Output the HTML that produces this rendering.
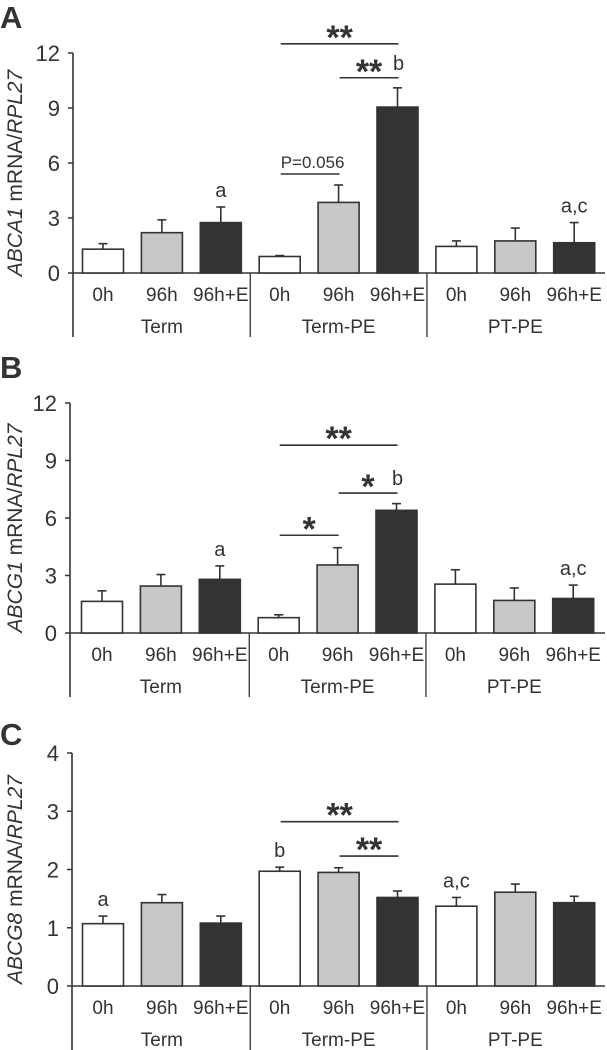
<!DOCTYPE html>
<html><head><meta charset="utf-8"><style>
html,body{margin:0;padding:0;background:#fff;}
svg{display:block;}
text{font-family:"Liberation Sans",Arial,sans-serif;fill:#333;}
</style></head><body>
<svg id="fig" width="607" height="1050" viewBox="0 0 607 1050" xmlns="http://www.w3.org/2000/svg"></svg>
<script>
const categories = ["0h","96h","96h+E","0h","96h","96h+E","0h","96h","96h+E"];
const groups = ["Term","Term-PE","PT-PE"];
const fills = ["#ffffff","#c8c8c8","#333333"];
const valuesA = [1.3,2.2,2.75,0.9,3.85,9.05,1.45,1.75,1.65];
const errorsA = [0.3,0.7,0.85,0.05,0.95,1.05,0.3,0.7,1.1];
const valuesB = [1.65,2.45,2.8,0.8,3.55,6.4,2.55,1.7,1.8];
const errorsB = [0.55,0.6,0.7,0.15,0.9,0.35,0.75,0.65,0.7];
const valuesC = [1.07,1.43,1.08,1.97,1.95,1.52,1.37,1.61,1.43];
const errorsC = [0.13,0.14,0.12,0.07,0.08,0.11,0.15,0.14,0.11];
const ticksA = [0,3,6,9,12];
const ticksB = [0,3,6,9,12];
const ticksC = [0,1,2,3,4];
const lettersA = [[2,"a"],[8,"a,c"]];
const lettersB = [[2,"a"],[8,"a,c"]];
const lettersC = [[0,"a"],[3,"b"],[6,"a,c"]];
// significance brackets: [fromBar, toBar, level(data units), label]
const sigA = [[3,5,12.5,"**"],[4,5,10.65,"**"],[3,4,5.4,"P=0.056"]];
const sigB = [[3,5,9.8,"**"],[4,5,7.3,"*"],[3,4,5.1,"*"]];
const sigC = [[3,5,2.82,"**"],[4,5,2.23,"**"]];

const NS="http://www.w3.org/2000/svg";
const svg=document.getElementById('fig');
function mk(tag,attrs,parent,txt){const e=document.createElementNS(NS,tag);for(const k in attrs)e.setAttribute(k,attrs[k]);if(txt!==undefined)e.textContent=txt;(parent||svg).appendChild(e);return e;}

const panels=[
 {id:"a",letter:"A",letterY:28,axisX:73,y0:273,yTop:53,max:12,vals:valuesA,errs:errorsA,ticks:ticksA,letters:lettersA,sig:sigA,gene:"ABCA1",xOff:0},
 {id:"b",letter:"B",letterY:378,axisX:70,y0:633,yTop:403,max:12,vals:valuesB,errs:errorsB,ticks:ticksB,letters:lettersB,sig:sigB,gene:"ABCG1",xOff:-1},
 {id:"c",letter:"C",letterY:745,axisX:72,y0:986,yTop:753,max:4,vals:valuesC,errs:errorsC,ticks:ticksC,letters:lettersC,sig:sigC,gene:"ABCG8",xOff:0}
];
panels.forEach(p=>{
 const g=mk('g',{});
 
 
 const yS=v=>p.y0-(v/p.max)*(p.y0-p.yTop);
 const xC=i=>103+p.xOff+i*58.9;
 const bw=41;
 const lt=mk('text',{x:0,y:p.letterY,'font-size':31,'font-weight':'bold'},g,p.letter);
 
 
 const yt=mk('text',{x:0,y:0,'font-size':21,'text-anchor':'middle',transform:`translate(22,${(p.y0+p.yTop)/2+10}) rotate(-90)`},g);
 
 
 mk('tspan',{'font-style':'italic'},yt,p.gene);
 mk('tspan',{},yt,' mRNA/');
 mk('tspan',{'font-style':'italic'},yt,'RPL27');
 const bottom=p.y0+64;
 const ax=mk('line',{x1:p.axisX,y1:p.yTop,x2:p.axisX,y2:bottom,stroke:'#333','stroke-width':1.6},g);
 
 
 const xa=mk('line',{x1:p.axisX,y1:p.y0,x2:605,y2:p.y0,stroke:'#333','stroke-width':1.6},g);
 
 
 p.ticks.forEach(t=>{
  mk('line',{x1:p.axisX-5,y1:yS(t),x2:p.axisX,y2:yS(t),stroke:'#333','stroke-width':1.5},g);
  const tl=mk('text',{x:p.axisX-13,y:yS(t)+8,'font-size':22,'text-anchor':'end'},g,t);
  
  
 });
 [1,2].forEach(k=>{
  const x=(xC(3*k-1)+xC(3*k))/2;
  const d=mk('line',{x1:x,y1:p.y0,x2:x,y2:bottom,stroke:'#333','stroke-width':1.3},g);
  
  
 });
 groups.forEach((gn,k)=>{
  const t=mk('text',{x:xC(3*k+1),y:p.y0+60,'font-size':19,'text-anchor':'middle'},g,gn);
  
  
 });
 categories.forEach((c,i)=>{
  const t=mk('text',{x:xC(i),y:p.y0+28,'font-size':19,'text-anchor':'middle'},g,c);
  
  
  const v=p.vals[i], e=p.errs[i];
  const top=yS(v+e);
  const el=mk('line',{x1:xC(i),y1:yS(v),x2:xC(i),y2:top,stroke:'#333','stroke-width':1.6},g);
  
  
  mk('line',{x1:xC(i)-4.5,y1:top,x2:xC(i)+4.5,y2:top,stroke:'#333','stroke-width':1.6},g);
  const b=mk('rect',{x:xC(i)-bw/2,y:yS(v),width:bw,height:p.y0-yS(v),fill:fills[i%3],stroke:'#333','stroke-width':1.6},g);
  
  
 });
 p.letters.forEach(([i,l])=>{
  const t=mk('text',{x:xC(i),y:yS(p.vals[i]+p.errs[i])-10,'font-size':20,'text-anchor':'middle'},g,l);
  
  
 });
 p.sig.forEach(([a,b,lv,lab])=>{
  const x1=xC(a)+1,x2=xC(b)+1,y=yS(lv);
  const ln=mk('line',{x1:x1,y1:y,x2:x2,y2:y,stroke:'#333','stroke-width':1.6},g);
  
  
  let t;
  if(lab.startsWith('P')){
   t=mk('text',{x:x1,y:y-6,'font-size':17},g,lab);
  } else {
   t=mk('text',{x:(x1+x2)/2,y:y+5,'font-size':34,'font-weight':'bold','text-anchor':'middle'},g,lab);
  }
  
  
 });
 if(p.id!=='c'){
  const lv=p.sig[1][2];
  const t=mk('text',{x:xC(5)+1,y:yS(lv)-8,'font-size':20,'text-anchor':'middle'},g,'b');
  
  
 }
});
</script>
</body></html>
